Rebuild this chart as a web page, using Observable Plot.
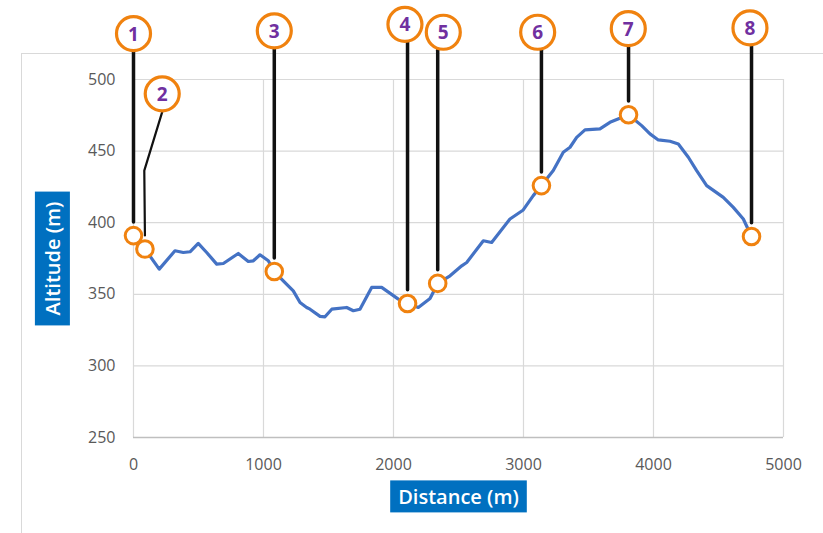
<!DOCTYPE html>
<html>
<head>
<meta charset="utf-8">
<script src="https://cdn.jsdelivr.net/npm/d3@7"></script>
<script src="https://cdn.jsdelivr.net/npm/@observablehq/plot@0.6"></script>
<style>
  html, body { margin: 0; padding: 0; background: #fff; }
  #wrap { position: relative; width: 823px; height: 533px; overflow: hidden; }
  #border { position: absolute; left: 21px; top: 53px; width: 810px; height: 490px;
            border-top: 1px solid #d9d9d9; border-left: 1px solid #d9d9d9; }
  #chart { position: absolute; left: 0; top: 0; }
</style>
</head>
<body>
<div id="wrap"><div id="border"></div><div id="chart"></div></div>
<script>
// Elevation profile
const distance = [0,88,198,319,383,435,498,563,640,691,806,883,922,973,1037,1083,1152,1229,1281,1332,1358,1435,1473,1525,1640,1691,1742,1832,1909,2037,2108,2191,2281,2340,2435,2525,2563,2691,2755,2896,2998,3075,3138,3229,3306,3358,3409,3473,3588,3665,3808,3909,3973,4037,4127,4191,4268,4332,4409,4537,4614,4691,4754];
const altitude = [391,381.6,367.6,380.4,379.2,379.7,385.5,379.2,371.1,371.5,378.5,372.9,373.4,377.6,373.4,365.9,359.4,352.4,344.3,340.8,339.6,334.6,334.3,339.6,340.8,338.5,339.6,354.8,354.8,346.6,343.6,340.8,347.1,357.6,362.9,369.9,372.2,387.4,386.2,402.6,408.9,418.9,425.9,436.4,449.2,452.7,459.6,464.8,465.5,470.1,475.4,467.8,462,457.8,456.9,455,445.7,436.4,425.9,417.7,410.7,402.6,390.4];

// Numbered points on the profile
const pointId = [1,2,3,4,5,6,7,8];
const pointDist = [0,88,1083,2108,2340,3138,3808,4754];
const pointAlt = [391,381.6,365.9,343.6,357.6,425.9,475.4,390.4];

// Callout bubbles (in data units)
const calloutDist = [0,221,1083,2088,2383,3109,3806,4742];
const calloutAlt = [532,490,534,538.5,533,533,535.5,536];

// Leader bend (callout 2 only)
const bendId = [2];
const bendDist = [83];
const bendAlt = [436.4];

// Axis ticks
const xTicks = [0,1000,2000,3000,4000,5000];
const yTicks = [250,300,350,400,450,500];
const xTitle = "Distance (m)";
const yTitle = "Altitude (m)";

const profile = distance.map((d, i) => ({d, a: altitude[i]}));
const points = pointId.map((id, i) => ({id, d: pointDist[i], a: pointAlt[i]}));
const callouts = pointId.map((id, i) => ({id, d: calloutDist[i], a: calloutAlt[i]}));

// leader polylines: from bubble bottom to marker top
const TOP_OFF = 12.6, BOT_OFF = 9.5;
const leaders = [];
pointId.forEach((id, i) => {
  const b = bendId.indexOf(id);
  if (b >= 0) {
    leaders.push({id, d: calloutDist[i], a: calloutAlt[i] - TOP_OFF});
    leaders.push({id, d: bendDist[b], a: bendAlt[b]});
  } else {
    leaders.push({id, d: pointDist[i], a: calloutAlt[i] - TOP_OFF});
  }
  leaders.push({id, d: pointDist[i], a: pointAlt[i] + BOT_OFF});
});

const orange = "#f0820f";
const purple = "#7030a0";
const blue = "#4472c4";

const chart = Plot.plot({
  width: 823,
  height: 533,
  marginTop: 79,
  marginLeft: 133,
  marginRight: 40,
  marginBottom: 96,
  style: {fontFamily: "'Open Sans', sans-serif", fontSize: "16px", color: "#595959", background: "transparent", overflow: "visible"},
  x: {domain: [0, 5000], ticks: xTicks, label: null},
  y: {domain: [250, 500], ticks: yTicks, label: null},
  marks: [
    Plot.gridX(xTicks, {stroke: "#d9d9d9", strokeOpacity: 1, strokeWidth: 1.2}),
    Plot.gridY(yTicks, {stroke: "#d9d9d9", strokeOpacity: 1, strokeWidth: 1.2}),
    Plot.ruleY([250], {stroke: "#bfbfbf", strokeWidth: 1.3}),
    Plot.axisX(xTicks, {tickSize: 0, tickPadding: 21, fill: "#595959", fontSize: 16, tickFormat: d => String(d)}),
    Plot.axisY(yTicks, {tickSize: 0, tickPadding: 18, fill: "#595959", fontSize: 16, tickFormat: d => String(d)}),
    Plot.line(profile, {x: "d", y: "a", stroke: blue, strokeWidth: 3.2, strokeLinejoin: "round"}),
    Plot.line(leaders, {x: "d", y: "a", z: "id", stroke: "#111", strokeWidth: d => d.id === 2 ? 2.2 : 3.5, strokeLinejoin: "miter"}),
    Plot.dot(points, {x: "d", y: "a", r: 8.3, fill: "white", stroke: orange, strokeWidth: 3}),
    Plot.dot(callouts, {x: "d", y: "a", r: 17, fill: "white", stroke: orange, strokeWidth: 3.2}),
    Plot.text(callouts, {x: "d", y: "a", text: d => String(d.id), fill: purple, fontSize: 19, fontWeight: "bold", dy: 1}),
    Plot.text([xTitle], {frameAnchor: "bottom", dy: 60, textAnchor: "middle", lineAnchor: "middle", text: d => d, fill: "white", fontSize: 20, fontWeight: 600}),
    Plot.text([yTitle], {frameAnchor: "left", dx: -80, rotate: -90, textAnchor: "middle", lineAnchor: "middle", text: d => d, fill: "white", fontSize: 20, fontWeight: 600})
  ]
});
document.getElementById("chart").appendChild(chart);

// blue boxes behind axis titles
const pads = {[xTitle]: [8, 2.5], [yTitle]: [10, 4]};
d3.select(chart).selectAll("text").each(function() {
  const label = this.textContent;
  if (!(label in pads)) return;
  const [px, py] = pads[label];
  const bb = this.getBBox();
  const t = this.getAttribute("transform");
  const rect = document.createElementNS("http://www.w3.org/2000/svg", "rect");
  rect.setAttribute("x", bb.x - px);
  rect.setAttribute("y", bb.y - py);
  rect.setAttribute("width", bb.width + 2 * px);
  rect.setAttribute("height", bb.height + 2 * py);
  rect.setAttribute("fill", "#0070c0");
  if (t) rect.setAttribute("transform", t);
  this.parentNode.insertBefore(rect, this);
});
</script>
</body>
</html>
